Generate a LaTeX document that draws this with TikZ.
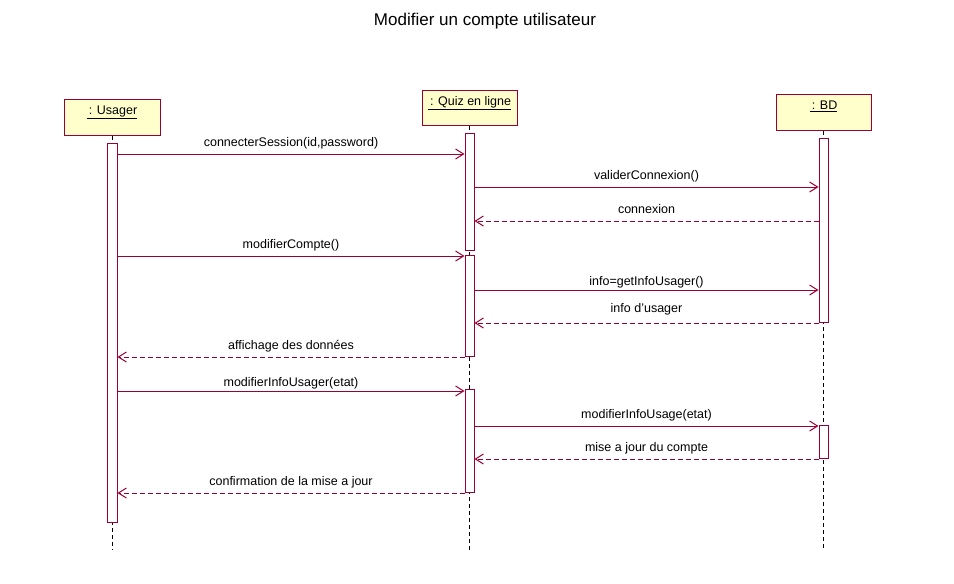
\documentclass[tikz,border=0pt]{standalone}
\usepackage{fontspec}
\setmainfont{Liberation Sans}
\usetikzlibrary{arrows.meta}
\definecolor{umlred}{RGB}{153,0,51}
\definecolor{umlfill}{RGB}{255,255,204}

\begin{document}
\begin{tikzpicture}[x=1pt,y=-1pt,
    obj/.style={draw=umlred, fill=umlfill, line width=1pt, anchor=north,
      inner sep=0pt, minimum width=95pt, text height=15pt, text depth=21pt,
      font=\fontsize{12.5}{14}\selectfont},
    act/.style={draw=umlred, fill=white, line width=1pt, minimum width=9pt, inner sep=0pt},
    life/.style={black, line width=1pt, dash pattern=on 4pt off 3pt},
    msg/.style={umlred, line width=1pt, -{Straight Barb[length=8pt,width=10pt]}},
    ret/.style={msg, dash pattern=on 5pt off 3pt},
    txt/.style={black, midway, inner sep=0pt, text height=9pt, text depth=3pt,
      font=\fontsize{12.5}{14}\selectfont, above=#1},
    txt/.default=4.5pt]
  \useasboundingbox (0,0) rectangle (954,584);
  \node [font=\fontsize{17}{20}\selectfont] (title) at (485,21) {Modifier un compte utilisateur};
  % Objects
  \node [obj, minimum width=96pt] (usager) at (112,99) {\underline{\,: Usager}};
  \node [obj, text depth=20pt] (quiz) at (469.5,90) {\underline{\,: Quiz en ligne}};
  \node [obj] (bd) at (823.5,94) {\underline{\,: BD}};
  % Lifelines
  \coordinate (uend) at (112,550);
  \coordinate (qend) at (469.5,550);
  \coordinate (bend) at (823.5,548);
  \draw [life] (usager.south) -- (uend);
  \draw [life] (quiz.south) -- (qend);
  \draw [life] (bd.south) -- (bend);
  % Activations
  \node [act, minimum width=10pt, minimum height=379pt] (u1) at (112,332.5) {};
  \node [act, minimum height=117pt] (q1) at (469.5,191.5) {};
  \node [act, minimum height=101pt] (q2) at (469.5,305.5) {};
  \node [act, minimum height=103pt] (q3) at (469.5,440.5) {};
  \node [act, minimum height=184pt] (b1) at (823.5,230) {};
  \node [act, minimum height=33pt] (b2) at (823.5,441.5) {};
  % Messages
  \draw [msg] (u1.east |- 0,154) -- node [txt] {connecterSession(id,password)} (q1.west |- 0,154);
  \draw [msg] (q1.east |- 0,187) -- node [txt] {validerConnexion()} (b1.west |- 0,187);
  \draw [ret] (b1.west |- 0,221) -- node [txt] {connexion} (q1.east |- 0,221);
  \draw [msg] (u1.east |- 0,256) -- node [txt] {modifierCompte()} (q2.west |- 0,256);
  \draw [msg] (q2.east |- 0,290) -- node [txt=1pt] {info=getInfoUsager()} (b1.west |- 0,290);
  \draw [ret] (b1.west |- 0,323) -- node [txt=7pt] {info d'usager} (q2.east |- 0,323);
  \draw [ret] (q2.west |- 0,357) -- node [txt] {affichage des données} (u1.east |- 0,357);
  \draw [msg] (u1.east |- 0,391) -- node [txt=1.5pt] {modifierInfoUsager(etat)} (q3.west |- 0,391);
  \draw [msg] (q3.east |- 0,426) -- node [txt] {modifierInfoUsage(etat)} (b2.west |- 0,426);
  \draw [ret] (b2.west |- 0,459) -- node [txt] {mise a jour du compte} (q3.east |- 0,459);
  \draw [ret] (q3.west |- 0,493) -- node [txt] {confirmation de la mise a jour} (u1.east |- 0,493);
\end{tikzpicture}
\end{document}
